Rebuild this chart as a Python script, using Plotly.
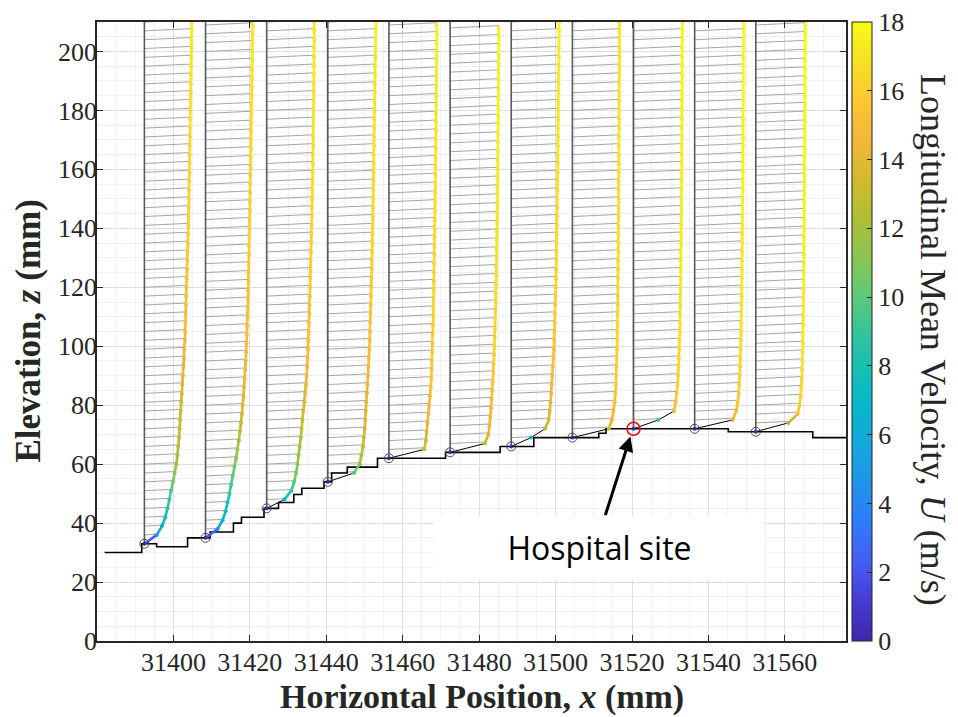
import plotly.graph_objects as go
from plotly.colors import sample_colorscale

# ---------------- data ----------------
stations_mm = [31392.4, 31408.4, 31424.4, 31440.4, 31456.4, 31472.4,
               31488.4, 31504.4, 31520.4, 31536.4, 31552.4]
ground_z_mm = [33, 35, 45, 54, 62, 64, 66, 69, 72, 72, 71]

heights_mm = [0, 3, 6, 9, 12, 15, 18, 21, 24, 27, 30, 33, 36, 39, 42, 45, 48, 51,
              54, 57, 60, 63, 66, 69, 72, 75, 78, 81, 84, 87, 90, 93, 96, 99, 102,
              105, 108, 111, 114, 117, 120, 123, 126, 129, 132, 135, 138, 141, 144,
              147, 150, 153, 156, 159, 162, 165, 168, 171, 174, 177]

U_p1 = [0, 4.5, 6.4, 7.6, 8.4, 9.1, 9.7, 10.4, 11.0, 11.6, 12.0, 12.3, 12.6, 12.8,
        13.0, 13.2, 13.4, 13.6, 13.8, 14.0, 14.2, 14.4, 14.5, 14.7, 14.8, 14.9,
        15.0, 15.1, 15.2, 15.3, 15.4, 15.5, 15.6, 15.7, 15.8, 15.9, 16.0, 16.1,
        16.1, 16.2, 16.2, 16.3, 16.4, 16.4, 16.5, 16.5, 16.6, 16.6, 16.7, 16.7,
        16.8, 16.8, 16.9, 16.9, 17.0, 17.0, 17.1, 17.1, 17.2, 17.2]
U_p2 = [0, 4.4, 6.2, 7.3, 8.0, 8.7, 9.3, 9.9, 10.5, 11.1, 11.6, 12.1, 12.5, 12.9,
        13.2, 13.5, 13.8, 14.0, 14.2, 14.4, 14.6, 14.8, 14.9, 15.0, 15.1, 15.2,
        15.3, 15.4, 15.5, 15.6, 15.6, 15.7, 15.8, 15.8, 15.9, 16.0, 16.0, 16.1,
        16.1, 16.2, 16.2, 16.3, 16.4, 16.4, 16.5, 16.5, 16.6, 16.6, 16.7, 16.7,
        16.8, 16.8, 16.9, 16.9, 17.0, 17.0, 17.1, 17.1, 17.2]
U_p3 = [0, 6.4, 9.0, 10.0, 10.7, 11.2, 11.6, 12.0, 12.4, 12.7, 13.0, 13.3, 13.7,
        14.0, 14.3, 14.5, 14.7, 14.9, 15.0, 15.1, 15.3, 15.4, 15.5, 15.6, 15.7,
        15.8, 15.9, 16.0, 16.0, 16.1, 16.2, 16.3, 16.3, 16.4, 16.5, 16.6, 16.6,
        16.7, 16.7, 16.8, 16.8, 16.9, 16.9, 16.9, 17.0, 17.0, 17.1, 17.1, 17.1,
        17.2, 17.2, 17.2, 17.3, 17.3, 17.3, 17.3]
U_p4 = [0, 9.5, 11.6, 12.2, 12.8, 13.1, 13.4, 13.6, 13.8, 14.0, 14.2, 14.4, 14.6,
        14.8, 14.9, 15.1, 15.2, 15.3, 15.4, 15.5, 15.6, 15.7, 15.8, 15.9, 16.0,
        16.0, 16.1, 16.2, 16.2, 16.3, 16.4, 16.4, 16.5, 16.5, 16.6, 16.6, 16.7,
        16.7, 16.8, 16.8, 16.9, 16.9, 17.0, 17.0, 17.1, 17.1, 17.2, 17.2, 17.3,
        17.3, 17.4, 17.4, 17.5]
U_p5 = [0, 12.8, 13.4, 13.7, 14.0, 14.3, 14.6, 14.9, 15.2, 15.4, 15.5, 15.6, 15.7,
        15.8, 15.9, 16.0, 16.1, 16.1, 16.2, 16.3, 16.3, 16.4, 16.4, 16.5, 16.5,
        16.6, 16.6, 16.7, 16.7, 16.8, 16.8, 16.9, 16.9, 16.9, 17.0, 17.0, 17.0,
        17.1, 17.1, 17.1, 17.2, 17.2, 17.2, 17.3, 17.3, 17.3, 17.4, 17.4, 17.4,
        17.4]
U_p6 = [0, 12.6, 13.9, 14.3, 14.6, 14.9, 15.1, 15.3, 15.5, 15.7, 15.8, 16.0, 16.1,
        16.2, 16.3, 16.4, 16.5, 16.6, 16.6, 16.7, 16.8, 16.8, 16.9, 16.9, 17.0,
        17.0, 17.1, 17.1, 17.2, 17.2, 17.2, 17.3, 17.3, 17.3, 17.4, 17.4, 17.4,
        17.5, 17.5, 17.5, 17.5, 17.6, 17.6, 17.6, 17.6, 17.7, 17.7, 17.7, 17.7]
U_p7 = [0, 7.2, 12.3, 13.6, 14.0, 14.3, 14.5, 14.7, 14.9, 15.1, 15.3, 15.5, 15.6,
        15.7, 15.8, 15.9, 16.0, 16.1, 16.2, 16.3, 16.3, 16.4, 16.4, 16.5, 16.5,
        16.6, 16.6, 16.7, 16.7, 16.8, 16.8, 16.9, 16.9, 16.9, 17.0, 17.0, 17.0,
        17.1, 17.1, 17.1, 17.2, 17.2, 17.2, 17.3, 17.3, 17.3, 17.4, 17.4, 17.4]
U_p8 = [0, 13.2, 14.4, 14.9, 15.4, 15.6, 15.8, 15.9, 16.0, 16.1, 16.2, 16.3, 16.3,
        16.4, 16.4, 16.5, 16.5, 16.5, 16.6, 16.6, 16.6, 16.7, 16.7, 16.7, 16.7,
        16.8, 16.8, 16.8, 16.8, 16.8, 16.9, 16.9, 16.9, 16.9, 16.9, 17.0, 17.0,
        17.0, 17.0, 17.0, 17.0, 17.1, 17.1, 17.1, 17.1, 17.1, 17.1, 17.1]
U_p9 = [0, 9.0, 14.7, 15.3, 15.7, 16.0, 16.2, 16.4, 16.5, 16.6, 16.7, 16.8, 16.9,
        16.9, 17.0, 17.0, 17.1, 17.1, 17.2, 17.2, 17.2, 17.3, 17.3, 17.3, 17.4,
        17.4, 17.4, 17.4, 17.5, 17.5, 17.5, 17.5, 17.5, 17.6, 17.6, 17.6, 17.6,
        17.6, 17.7, 17.7, 17.7, 17.7, 17.7, 17.7, 17.8, 17.8, 17.8]
U_p10 = [0, 13.8, 15.1, 15.6, 16.0, 16.2, 16.4, 16.5, 16.6, 16.7, 16.8, 16.9, 16.9,
         17.0, 17.0, 17.1, 17.1, 17.2, 17.2, 17.2, 17.3, 17.3, 17.3, 17.4, 17.4,
         17.4, 17.4, 17.5, 17.5, 17.5, 17.5, 17.5, 17.6, 17.6, 17.6, 17.6, 17.6,
         17.7, 17.7, 17.7, 17.7, 17.7, 17.7, 17.8, 17.8, 17.8, 17.8]
U_p11 = [0, 11.8, 15.2, 15.9, 16.3, 16.5, 16.7, 16.8, 16.9, 17.0, 17.1, 17.1, 17.2,
         17.2, 17.3, 17.3, 17.4, 17.4, 17.4, 17.5, 17.5, 17.5, 17.5, 17.6, 17.6,
         17.6, 17.6, 17.7, 17.7, 17.7, 17.7, 17.7, 17.8, 17.8, 17.8, 17.8, 17.8,
         17.9, 17.9, 17.9, 17.9, 17.9, 17.9, 18.0, 18.0, 18.0, 18.0]
profiles_U = [U_p1, U_p2, U_p3, U_p4, U_p5, U_p6, U_p7, U_p8, U_p9, U_p10, U_p11]

terrain_x_mm = [31382, 31391.7, 31395.6, 31403.7, 31409.6, 31415.7, 31417.8, 31423.7,
                31427.5, 31431.5, 31433.6, 31439.4, 31441.4, 31445.5, 31453.4,
                31471.2, 31485.5, 31494.3, 31511.3, 31513.2, 31545.2, 31567.3, 31577]
terrain_z_mm = [30, 33, 32, 35, 37, 40, 42, 45, 47, 49.7, 51.8, 54, 57, 59, 62,
                64, 66, 69, 70.5, 72, 71, 69, 69]

hospital_index = 8
x_ticks = [31400, 31420, 31440, 31460, 31480, 31500, 31520, 31540, 31560]
y_ticks = [0, 20, 40, 60, 80, 100, 120, 140, 160, 180, 200]
cbar_ticks = [0, 2, 4, 6, 8, 10, 12, 14, 16, 18]

# ---------------- style ----------------
SCALE = 0.72      # mm of plot per m/s
TILT = 0.06       # small rise of the vector lines
U_MAX = 18.0
SERIF = "Liberation Serif"
AX = "#262626"
TICK_SIZE = 26

parula = [
    [0.000, "rgb(62,38,168)"], [0.063, "rgb(70,58,212)"], [0.125, "rgb(70,92,242)"],
    [0.188, "rgb(48,122,250)"], [0.250, "rgb(32,146,234)"], [0.313, "rgb(22,166,222)"],
    [0.375, "rgb(6,182,204)"], [0.438, "rgb(22,190,182)"], [0.500, "rgb(52,196,156)"],
    [0.563, "rgb(100,200,118)"], [0.625, "rgb(142,196,80)"], [0.688, "rgb(178,190,50)"],
    [0.750, "rgb(212,186,46)"], [0.813, "rgb(246,182,58)"], [0.875, "rgb(252,200,50)"],
    [0.938, "rgb(245,226,36)"], [1.000, "rgb(249,251,21)"],
]

fig = go.Figure()

# vector (quiver-like) grey lines
qx, qy = [], []
for s, z0, U in zip(stations_mm, ground_z_mm, profiles_U):
    for h, u in zip(heights_mm, U):
        dx = u * SCALE
        qx += [s, s + dx, None]
        qy += [z0 + h, z0 + h + TILT * dx, None]
fig.add_trace(go.Scatter(x=qx, y=qy, mode="lines", line=dict(color="#a6a6a6", width=1),
                         hoverinfo="skip", showlegend=False))

# station vertical lines
vx, vy = [], []
for s, z0 in zip(stations_mm, ground_z_mm):
    vx += [s, s, None]
    vy += [z0, 215, None]
fig.add_trace(go.Scatter(x=vx, y=vy, mode="lines", line=dict(color="#5a5a5a", width=1.6),
                         hoverinfo="skip", showlegend=False))

# terrain
fig.add_trace(go.Scatter(x=terrain_x_mm, y=terrain_z_mm, mode="lines",
                         line=dict(color="black", width=1.6, shape="hv"),
                         hoverinfo="skip", showlegend=False))

# profile: thin black line
px_all, pz_all, pu_all = [], [], []
bx, bz = [], []
for s, z0, U in zip(stations_mm, ground_z_mm, profiles_U):
    xs = [s + u * SCALE for u in U]
    zs = [z0 + h for h, u in zip(heights_mm, U)]
    bx += xs + [None]
    bz += zs + [None]
    px_all += xs
    pz_all += zs
    pu_all += list(U[:len(zs)])
fig.add_trace(go.Scatter(x=bx, y=bz, mode="lines", line=dict(color="black", width=1),
                         hoverinfo="skip", showlegend=False))

# profile: coloured segments, binned by colour
bins = {}
NB = 72
for s, z0, U in zip(stations_mm, ground_z_mm, profiles_U):
    zs = [z0 + h for h, u in zip(heights_mm, U)]
    for i in range(len(zs) - 1):
        u0, u1 = U[i], U[i + 1]
        if abs(u1 - u0) > 5:
            continue
        k = int(round((u0 + u1) / 2 / U_MAX * (NB - 1)))
        k = max(0, min(NB - 1, k))
        bins.setdefault(k, ([], []))
        bins[k][0].extend([s + u0 * SCALE, s + u1 * SCALE, None])
        bins[k][1].extend([zs[i], zs[i + 1], None])
for k, (xx, zz) in sorted(bins.items()):
    col = sample_colorscale(parula, [k / (NB - 1)])[0]
    fig.add_trace(go.Scatter(x=xx, y=zz, mode="lines", line=dict(color=col, width=2.6),
                             hoverinfo="skip", showlegend=False))

# profile points with colour bar
fig.add_trace(go.Scatter(
    x=px_all, y=pz_all, mode="markers",
    marker=dict(size=4, color=pu_all, colorscale=parula, cmin=0, cmax=U_MAX,
                line=dict(width=0),
                colorbar=dict(x=1.008, xanchor="left", xpad=0, y=0.5, yanchor="middle",
                              ypad=0, len=1, lenmode="fraction", thickness=20,
                              outlinewidth=1, outlinecolor=AX,
                              tickvals=cbar_ticks, ticks="inside", ticklen=5,
                              tickcolor=AX,
                              tickfont=dict(family=SERIF, size=TICK_SIZE, color=AX))),
    hoverinfo="skip", showlegend=False))

# base circles
cx = [s for i, s in enumerate(stations_mm) if i != hospital_index]
cz = [z for i, z in enumerate(ground_z_mm) if i != hospital_index]
fig.add_trace(go.Scatter(x=cx, y=cz, mode="markers",
                         marker=dict(symbol="circle-open", size=9, color="#4a4a4a",
                                     line=dict(color="#4a4a4a", width=1)),
                         hoverinfo="skip", showlegend=False))
fig.add_trace(go.Scatter(x=[stations_mm[hospital_index]], y=[ground_z_mm[hospital_index]],
                         mode="markers",
                         marker=dict(symbol="circle-open", size=13, color="red",
                                     line=dict(color="red", width=1.5)),
                         hoverinfo="skip", showlegend=False))

# annotations
fig.add_annotation(x=31511.6, y=31.7, xref="x", yref="y", text="Hospital site",
                   showarrow=False, bgcolor="white", width=327, height=61,
                   xanchor="center", yanchor="middle",
                   font=dict(family="Open Sans", size=32, color="black"))
fig.add_annotation(x=31519.6, y=69.4, ax=31512.9, ay=42.2, xref="x", yref="y",
                   axref="x", ayref="y", text="", showarrow=True, arrowhead=2,
                   arrowsize=1, arrowwidth=3, arrowcolor="black")
fig.add_annotation(x=0.514, y=-0.09, xref="paper", yref="paper", showarrow=False,
                   xanchor="center", yanchor="middle",
                   text="<b>Horizontal Position, <i>x</i> (mm)</b>",
                   font=dict(family=SERIF, size=34, color=AX))
fig.add_annotation(x=-0.092, y=0.5, xref="paper", yref="paper", showarrow=False,
                   xanchor="center", yanchor="middle",
                   textangle=-90, text="<b>Elevation, <i>z</i> (mm)</b>",
                   font=dict(family=SERIF, size=35, color=AX))
fig.add_annotation(x=1.117, y=0.487, xref="paper", yref="paper", showarrow=False,
                   xanchor="center", yanchor="middle",
                   textangle=90, text="Longitudinal Mean Velocity, <i>U</i> (m/s)",
                   font=dict(family=SERIF, size=36, color=AX))

axis_common = dict(showline=True, linecolor=AX, linewidth=1.5, mirror="ticks",
                   ticks="inside", ticklen=6, tickwidth=1.2, tickcolor=AX,
                   showgrid=True, gridcolor="#dedede", gridwidth=1, zeroline=False,
                   tickfont=dict(family=SERIF, size=TICK_SIZE, color=AX),
                   automargin=False)
fig.update_xaxes(range=[31380, 31576], tickvals=x_ticks, tickformat="d",
                 ticklabelstandoff=-3,
                 minor=dict(dtick=5, tick0=31380, showgrid=True, gridcolor="#f0f0f0",
                            gridwidth=1),
                 **axis_common)
fig.update_yaxes(range=[0, 210], tickvals=y_ticks, ticklabelstandoff=-7,
                 minor=dict(dtick=5, tick0=0, showgrid=True, gridcolor="#f0f0f0",
                            gridwidth=1),
                 **axis_common)
fig.update_layout(width=958, height=717, margin=dict(l=97, r=112, t=22, b=76),
                  paper_bgcolor="white", plot_bgcolor="white", showlegend=False)

fig.write_html("out.html")
